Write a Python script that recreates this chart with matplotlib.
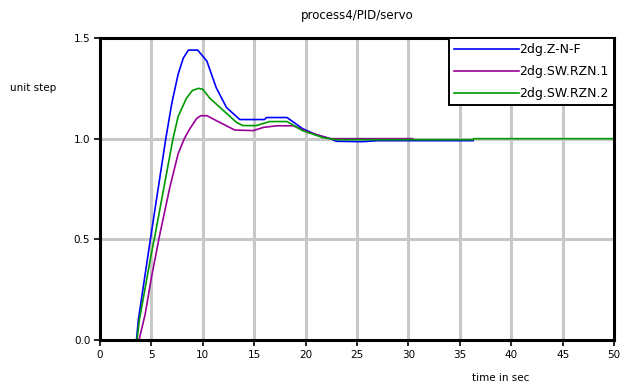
import numpy as np
import matplotlib
matplotlib.use("Agg")
import matplotlib.pyplot as plt

# step responses
t_znf = [3.55, 3.73, 4.9, 5.8, 6.4, 7.0, 7.6, 8.1, 8.6, 9.5, 10.4, 11.3, 12.3, 13.6, 16.0, 16.2,
         18.2, 18.6, 19.7, 21.0, 22.4, 23.0, 25.5, 27.0, 29.1, 36.3]
y_znf = [0.0, 0.1, 0.5, 0.8, 1.0, 1.18, 1.32, 1.40, 1.44, 1.44, 1.385, 1.254, 1.155, 1.095, 1.095, 1.105,
         1.105, 1.09, 1.05, 1.02, 1.0, 0.987, 0.985, 0.99, 0.99, 0.99]

t_rzn1 = [3.8, 4.4, 5.0, 5.8, 6.8, 7.6, 8.2, 8.75, 9.4, 9.8, 10.4, 11.3, 13.1, 14.9, 15.9, 17.2,
          18.8, 20.4, 22.4, 30.4]
y_rzn1 = [0.0, 0.13, 0.31, 0.52, 0.76, 0.925, 1.0, 1.05, 1.10, 1.114, 1.114, 1.09, 1.043, 1.04, 1.056, 1.064,
          1.064, 1.03, 1.0, 1.0]

t_rzn2 = [3.6, 3.83, 5.0, 5.35, 6.3, 7.1, 7.6, 8.4, 9.0, 9.6, 10.0, 10.7, 12.0, 13.3, 13.9, 15.2,
          16.5, 18.2, 19.7, 21.7, 23.0, 36.3, 36.35, 50.0]
y_rzn2 = [0.0, 0.1, 0.43, 0.52, 0.78, 1.0, 1.11, 1.20, 1.24, 1.25, 1.245, 1.20, 1.14, 1.08, 1.065, 1.065,
          1.085, 1.085, 1.04, 1.005, 0.995, 0.995, 1.0, 1.0]

labels = ["2dg.Z-N-F", "2dg.SW.RZN.1", "2dg.SW.RZN.2"]
colors = ["#0000ff", "#990099", "#009900"]

fig = plt.figure(figsize=(6.21, 3.89), dpi=100)
ax = fig.add_axes([100/621, 1-340/389, 514/621, 302/389])

ax.plot(t_znf, y_znf, color=colors[0], lw=1.2, label=labels[0])
ax.plot(t_rzn1, y_rzn1, color=colors[1], lw=1.2, label=labels[1])
ax.plot(t_rzn2, y_rzn2, color=colors[2], lw=1.2, label=labels[2])

ax.set_xlim(0, 50)
ax.set_ylim(0, 1.5)
ax.set_xticks(np.arange(0, 51, 5))
ax.set_yticks([0.0, 0.5, 1.0, 1.5])
ax.set_yticklabels(["0.0", "0.5", "1.0", "1.5"])

## grey grid, only inside the frame
for x in range(5, 50, 5):
    ax.axvline(x, color="#c8c8c8", lw=2.2, zorder=0)
for y in [0.5, 1.0]:
    ax.axhline(y, color="#c8c8c8", lw=2.2, zorder=0)

for s in ax.spines.values():
    s.set_linewidth(2.2)
ax.tick_params(direction="out", length=4, width=1.2, labelsize=7.5, pad=3)

fig.text(357/621, 1-15/389, "process4/PID/servo", ha="center", va="center", fontsize=8.5)
fig.text(33/621, 1-88/389, "unit step", ha="center", va="center", fontsize=7.5)
fig.text(501/621, 1-378/389, "time in sec", ha="center", va="center", fontsize=7.5)

leg = ax.legend(loc="upper right", fontsize=9, handlelength=5.2, handletextpad=0.05,
                labelspacing=0.72, borderaxespad=0, fancybox=False, framealpha=1,
                borderpad=0.4)
leg.get_frame().set_edgecolor("black")
leg.get_frame().set_linewidth(1.4)

fig.savefig("out.png", dpi=100)
